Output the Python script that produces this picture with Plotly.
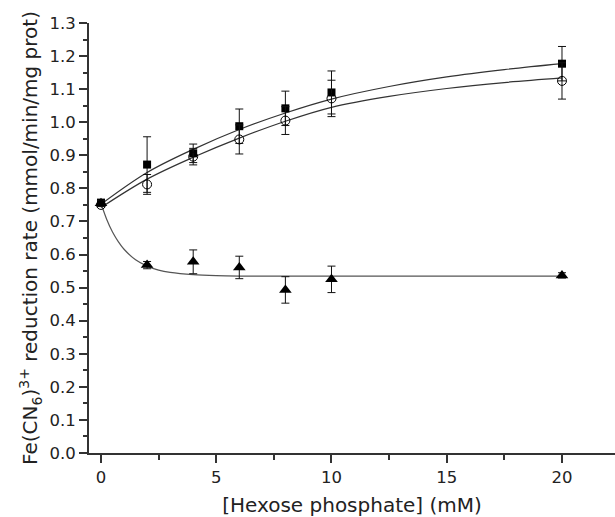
import plotly.graph_objects as go

# Measured data
conc = [0, 2, 4, 6, 8, 10, 20]
sq_vals = [0.757, 0.872, 0.906, 0.988, 1.042, 1.090, 1.177]
sq_err = [0.005, 0.084, 0.028, 0.052, 0.052, 0.065, 0.052]
circ_vals = [0.750, 0.812, 0.896, 0.948, 1.005, 1.072, 1.125]
circ_err = [0.005, 0.030, 0.025, 0.044, 0.042, 0.055, 0.055]
tri_vals = [0.755, 0.568, 0.578, 0.561, 0.493, 0.525, 0.537]
tri_err = [0.008, 0.011, 0.036, 0.034, 0.040, 0.040, 0.008]

# Fitted curves
fit_x = [0, 2, 4, 6, 8, 10, 12.5, 15, 17.5, 20]
fit_sq = [0.752, 0.848, 0.918, 0.978, 1.028, 1.070, 1.108, 1.137, 1.159, 1.177]
fit_circ = [0.742, 0.828, 0.894, 0.952, 1.003, 1.045, 1.078, 1.102, 1.120, 1.134]
fit_tri_x = [0, 0.25, 0.5, 0.75, 1, 1.5, 2, 2.5, 3, 4, 5, 6, 8, 10, 15, 20]
fit_tri = [0.755, 0.706, 0.668, 0.639, 0.616, 0.584, 0.565, 0.553, 0.546, 0.539,
           0.536, 0.535, 0.535, 0.535, 0.535, 0.535]

fig = go.Figure()

fig.add_trace(go.Scatter(x=fit_x, y=fit_sq, mode="lines", line=dict(color="#333", width=1.2, shape="spline"),
                         showlegend=False, hoverinfo="skip"))
fig.add_trace(go.Scatter(x=fit_x, y=fit_circ, mode="lines", line=dict(color="#333", width=1.2, shape="spline"),
                         showlegend=False, hoverinfo="skip"))
fig.add_trace(go.Scatter(x=fit_tri_x, y=fit_tri, mode="lines", line=dict(color="#555", width=1.2, shape="spline"),
                         showlegend=False, hoverinfo="skip"))

err_style = dict(type="data", thickness=1, width=4, color="#111")

fig.add_trace(go.Scatter(x=conc, y=sq_vals, mode="markers",
                         marker=dict(symbol="square", size=8, color="black"),
                         error_y=dict(array=sq_err, **err_style), showlegend=False))
fig.add_trace(go.Scatter(x=conc, y=circ_vals, mode="markers",
                         marker=dict(symbol="circle-open", size=9, color="black", line=dict(width=1)),
                         error_y=dict(array=circ_err, **err_style), showlegend=False))
fig.add_trace(go.Scatter(x=conc, y=tri_vals, mode="markers",
                         marker=dict(symbol="triangle-up", size=11, color="black"),
                         error_y=dict(array=tri_err, **err_style), showlegend=False))

axis_common = dict(showgrid=False, zeroline=False, showline=True, linecolor="#333", linewidth=2,
                   ticks="outside", ticklen=8, tickwidth=1.5, tickcolor="#333",
                   tickfont=dict(family="DejaVu Sans", size=16.5, color="#222"))

fig.update_xaxes(range=[-0.52, 22.3], tickmode="linear", tick0=0, dtick=5,
                 minor=dict(ticks="outside", ticklen=5, tickwidth=1.5, tickcolor="#333", dtick=2.5, tick0=0),
                 title=dict(text="[Hexose phosphate] (mM)", font=dict(family="DejaVu Sans", size=20, color="#222"),
                            standoff=12),
                 **axis_common)
fig.update_yaxes(range=[0, 1.3], tickmode="linear", tick0=0, dtick=0.1, tickformat=".1f",
                 minor=dict(ticks="outside", ticklen=4, tickwidth=1.5, tickcolor="#333", dtick=0.05, tick0=0),
                 title=dict(text="Fe(CN<sub>6</sub>)<sup>3+</sup> reduction rate (mmol/min/mg prot)",
                            font=dict(family="DejaVu Sans", size=20, color="#222"), standoff=6),
                 **axis_common)

fig.update_layout(width=615, height=517, margin=dict(l=89, r=0, t=23, b=64),
                  plot_bgcolor="white", paper_bgcolor="white")

fig.write_html("out.html")
